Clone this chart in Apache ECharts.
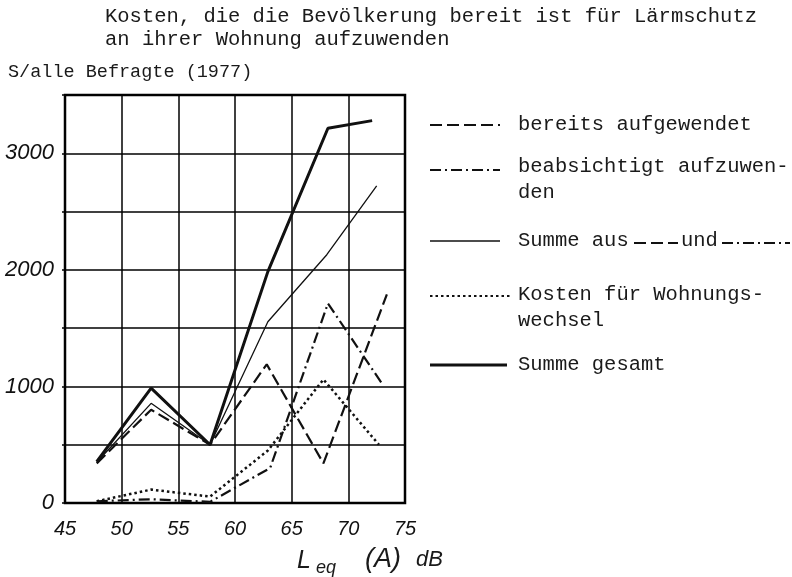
<!DOCTYPE html>
<html>
<head>
<meta charset="utf-8">
<script src="https://cdn.jsdelivr.net/npm/echarts@6/dist/echarts.min.js"></script>
<style>html,body{margin:0;padding:0;background:#fff}#c{width:792px;height:577px}</style>
</head>
<body>
<div id="c"></div>
<script>
// Data
var xTicks = [45, 50, 55, 60, 65, 70, 75];
var yTicks = [0, 1000, 2000, 3000];

var bereitsX   = [47.8, 52.6, 57.8, 62.8, 67.8, 73.4];
var bereitsY   = [340, 800, 500, 1190, 340, 1790];

var beabsX     = [47.8, 52.6, 57.8, 63.1, 68.2, 73.0];
var beabsY     = [15, 32, 10, 300, 1712, 1020];

var summeAusX  = [47.8, 52.6, 57.8, 62.9, 68.1, 72.5];
var summeAusY  = [350, 855, 500, 1555, 2130, 2720];

var kostenX    = [47.8, 52.6, 57.8, 62.9, 67.8, 72.7];
var kostenY    = [15, 115, 55, 450, 1060, 500];

var gesamtX    = [47.8, 52.6, 57.8, 62.9, 68.2, 72.1];
var gesamtY    = [355, 985, 500, 1985, 3215, 3280];

var titleLines = ['Kosten, die die Bevölkerung bereit ist für Lärmschutz', 'an ihrer Wohnung aufzuwenden'];
var yUnit = 'S/alle Befragte (1977)';
var legendNames = ['bereits aufgewendet', 'beabsichtigt aufzuwen-\nden', 'Summe aus', 'Kosten für Wohnungs-\nwechsel', 'Summe gesamt'];

function pairs(xs, ys) { return xs.map(function (x, i) { return [x, ys[i]]; }); }

var DASH = [12, 5];
var DASHDOT = [11, 4, 2, 4];
var DOT = [2.5, 3];
var mono = 'Liberation Mono';
var txtStyle = function (t, x, y, size, fam, extra) {
  var s = { text: t, x: x, y: y, font: (extra || '') + ' ' + size + 'px "' + fam + '"', fill: '#1a1a1a', verticalAlign: 'middle', lineHeight: 26 };
  return { type: 'text', style: s };
};
function lineEl(x1, x2, y, dash, w) {
  return { type: 'line', shape: { x1: x1, y1: y, x2: x2, y2: y }, style: { stroke: '#111', lineWidth: w, lineDash: dash } };
}

var chart = echarts.init(document.getElementById('c'), null, { renderer: 'canvas' });
chart.setOption({
  animation: false,
  backgroundColor: '#fff',
  grid: { left: 65, right: 387, top: 95, bottom: 74, show: true, borderColor: '#000', borderWidth: 2.5 },
  xAxis: {
    type: 'value', min: 45, max: 75, interval: 5,
    axisLine: { show: false },
    axisTick: { show: false },
    splitLine: { show: true, lineStyle: { color: '#000', width: 1.5 } },
    axisLabel: { show: true, margin: 16, color: '#111', fontFamily: 'Liberation Sans', fontStyle: 'italic', fontSize: 20,
      formatter: function (v) { return xTicks.indexOf(v) >= 0 ? String(v) : ''; } }
  },
  yAxis: {
    type: 'value', min: 0, max: 3500, interval: 500,
    axisLine: { show: false },
    axisTick: { show: true, length: 3, lineStyle: { color: '#000', width: 1.5 } },
    splitLine: { show: true, lineStyle: { color: '#000', width: 1.5 } },
    axisLabel: { show: true, margin: 11, color: '#111', fontFamily: 'Liberation Sans', fontStyle: 'italic', fontSize: 22, padding: [5, 0, 0, 0],
      formatter: function (v) { return yTicks.indexOf(v) >= 0 ? String(v) : ''; } }
  },
  series: [
    { name: legendNames[0], type: 'line', data: pairs(bereitsX, bereitsY), symbol: 'none', lineStyle: { color: '#111', width: 2.2, type: DASH } },
    { name: legendNames[1], type: 'line', data: pairs(beabsX, beabsY), symbol: 'none', lineStyle: { color: '#111', width: 2.2, type: DASHDOT } },
    { name: legendNames[2], type: 'line', data: pairs(summeAusX, summeAusY), symbol: 'none', lineStyle: { color: '#111', width: 1.3 } },
    { name: legendNames[3], type: 'line', data: pairs(kostenX, kostenY), symbol: 'none', lineStyle: { color: '#111', width: 2.5, type: DOT } },
    { name: legendNames[4], type: 'line', data: pairs(gesamtX, gesamtY), symbol: 'none', lineStyle: { color: '#111', width: 3 } }
  ],
  graphic: [
    txtStyle(titleLines[0], 105, 17, 20.5, mono),
    txtStyle(titleLines[1], 105, 40, 20.5, mono),
    txtStyle(yUnit, 8, 72, 18.5, mono),
    // legend
    lineEl(430, 500, 125, DASH, 2.2),
    txtStyle(legendNames[0], 518, 125, 20.5, mono),
    lineEl(430, 500, 170, DASHDOT, 2.2),
    txtStyle(legendNames[1].split('\n')[0], 518, 167, 20.5, mono),
    txtStyle(legendNames[1].split('\n')[1], 518, 193, 20.5, mono),
    lineEl(430, 500, 241, null, 1.3),
    txtStyle(legendNames[2], 518, 241, 20.5, mono),
    lineEl(634, 678, 243, DASH, 2),
    txtStyle('und', 681, 241, 20.5, mono),
    lineEl(722, 790, 243, DASHDOT, 2),
    lineEl(430, 510, 296, DOT, 2),
    txtStyle(legendNames[3].split('\n')[0], 518, 295, 20.5, mono),
    txtStyle(legendNames[3].split('\n')[1], 518, 321, 20.5, mono),
    lineEl(430, 507, 365, null, 3),
    txtStyle(legendNames[4], 518, 365, 20.5, mono),
    // x-axis name
    txtStyle('L', 297, 561, 25, 'Liberation Sans', 'italic'),
    txtStyle('eq', 316, 568, 18, 'Liberation Sans', 'italic'),
    txtStyle('(A)', 365, 559, 27, 'Liberation Sans', 'italic'),
    txtStyle('dB', 416, 560, 22, 'Liberation Sans', 'italic')
  ]
});
</script>
</body>
</html>
